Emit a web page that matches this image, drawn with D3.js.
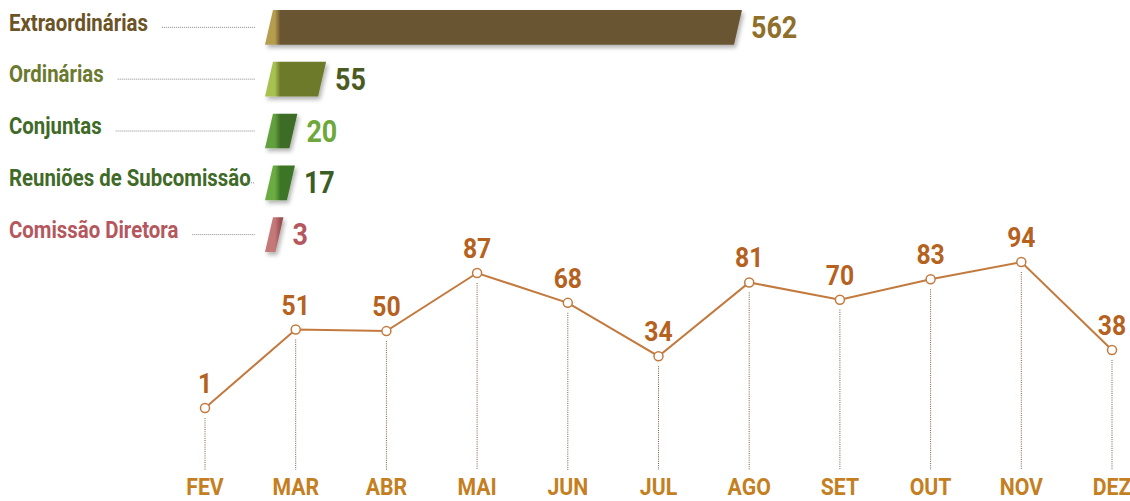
<!DOCTYPE html>
<html>
<head>
<meta charset="utf-8">
<script src="https://cdn.jsdelivr.net/npm/d3@7"></script>
<style>
  html, body { margin: 0; padding: 0; background: #ffffff; }
  svg { display: block; }
  text { font-family: Roboto, "Noto Sans", sans-serif; font-weight: bold; }
</style>
</head>
<body>
<svg id="chart" width="1130" height="501"></svg>
<script>
// ---- data ----
const barCategories = ["Extraordinárias", "Ordinárias", "Conjuntas", "Reuniões de Subcomissão", "Comissão Diretora"];
const barValues = [562, 55, 20, 17, 3];
const barLabelColors = ["#6b5326", "#6b7a2e", "#3f6a28", "#3f6a28", "#b4585e"];
const barValueColors = ["#8f6f2c", "#4b5a22", "#6ea83a", "#3c5c26", "#b4585e"];
const barMainColors = ["#6a5430", "#6c7a2c", "#3e6c26", "#3d7526", "#9a4f53"];
const barLightColors = ["#b59d4e", "#a8c04f", "#62a03c", "#6bab42", "#c47878"];

const months = ["FEV", "MAR", "ABR", "MAI", "JUN", "JUL", "AGO", "SET", "OUT", "NOV", "DEZ"];
const monthValues = [1, 51, 50, 87, 68, 34, 81, 70, 83, 94, 38];

// ---- setup ----
const svg = d3.select("#chart");
const defs = svg.append("defs");
const shadow = defs.append("filter").attr("id", "shadow")
  .attr("x", "-20%").attr("y", "-30%").attr("width", "140%").attr("height", "180%");
shadow.append("feDropShadow").attr("dx", 2).attr("dy", 3)
  .attr("stdDeviation", 2).attr("flood-color", "#000").attr("flood-opacity", 0.3);

// condensing factor: fit a bold sans to the narrow typeface of the original
const probe = svg.append("text").attr("font-size", 23).text("Extraordinárias");
const SX = 136 / probe.node().getComputedTextLength();
probe.remove();

function ctext(g, x, y, size, color, str, anchor) {
  return g.append("text")
    .attr("transform", `translate(${x},${y}) scale(${SX},1)`)
    .attr("font-size", size)
    .attr("fill", color)
    .attr("text-anchor", anchor || "start")
    .text(str);
}

// ---- bar section ----
const rowScale = d3.scaleBand().domain(barCategories).range([10, 252]).paddingInner(0.33).paddingOuter(0);
const barX0 = 265, skew = 8;
const wScale = d3.scaleLinear().domain([0, 562]).range([8, 469]);
const leaderEnd = 255;

const rowsG = svg.append("g");
barCategories.forEach((c, i) => {
  const g = rowsG.append("g").attr("class", "row");
  const v = barValues[i];
  const top = rowScale(c);
  const h = rowScale.bandwidth();
  const bottom = top + h;
  const mid = top + h / 2;
  const w = wScale(v);

  const lbl = ctext(g, 9, top + 20.5, 23.5, barLabelColors[i], c);
  const tw = lbl.node().getComputedTextLength() * SX;
  const ls = Math.min(9 + tw + 14, leaderEnd - 12);
  g.append("line")
    .attr("x1", ls).attr("x2", leaderEnd)
    .attr("y1", mid).attr("y2", mid)
    .attr("stroke", "#8a8a8a").attr("stroke-width", 1)
    .attr("stroke-dasharray", "1,1");

  const gid = "grad" + i;
  const grad = defs.append("linearGradient").attr("id", gid)
    .attr("gradientUnits", "userSpaceOnUse")
    .attr("x1", barX0).attr("x2", barX0 + skew + 14).attr("y1", 0).attr("y2", 0);
  grad.append("stop").attr("offset", "0%").attr("stop-color", barLightColors[i]);
  grad.append("stop").attr("offset", "45%").attr("stop-color", barLightColors[i]);
  grad.append("stop").attr("offset", "70%").attr("stop-color", barMainColors[i]);
  grad.append("stop").attr("offset", "100%").attr("stop-color", barMainColors[i]);

  const p = d3.path();
  p.moveTo(barX0, bottom);
  p.lineTo(barX0 + skew, top);
  p.lineTo(barX0 + skew + w, top);
  p.lineTo(barX0 + w, bottom);
  p.closePath();
  g.append("path").attr("d", p.toString())
    .attr("fill", `url(#${gid})`)
    .attr("filter", "url(#shadow)");

  ctext(g, barX0 + skew + w + 9, top + 28, 31, barValueColors[i], v);
});

// ---- line section ----
const x = d3.scalePoint().domain(months).range([205, 1112]);
const y = d3.scaleLinear().domain([0, 100]).range([409.6, 252.6]);
const baseY = 470;
const lineColor = "#c27a3e";

const lg = svg.append("g");
lg.selectAll("line.drop").data(months).join("line")
  .attr("class", "drop")
  .attr("x1", d => x(d)).attr("x2", d => x(d))
  .attr("y1", (d, i) => y(monthValues[i]) + 10).attr("y2", baseY)
  .attr("stroke", "#7a5a48").attr("stroke-width", 1)
  .attr("stroke-dasharray", "1,1.2");

const line = d3.line().x((d, i) => x(months[i])).y(d => y(d));
lg.append("path").datum(monthValues)
  .attr("d", line).attr("fill", "none")
  .attr("stroke", lineColor).attr("stroke-width", 2);

lg.selectAll("circle").data(monthValues).join("circle")
  .attr("cx", (d, i) => x(months[i])).attr("cy", d => y(d))
  .attr("r", 4.5).attr("fill", "#fff")
  .attr("stroke", lineColor).attr("stroke-width", 1.5);

monthValues.forEach((v, i) => {
  ctext(lg, x(months[i]), y(v) - 15, 28.5, "#b5621f", v, "middle");
});
months.forEach(m => {
  ctext(lg, x(m), 495, 24.5, "#c47f22", m, "middle");
});
</script>
</body>
</html>
